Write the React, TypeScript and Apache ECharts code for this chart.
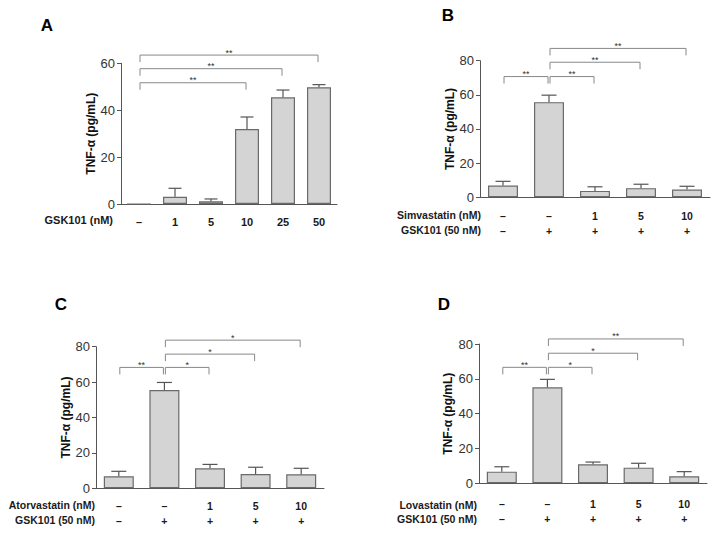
import React, { useEffect, useRef } from "react";
import * as echarts from "echarts";

// ---- Data ----
const catsA = ["–", "1", "5", "10", "25", "50"];
const meanA = [0, 3.1, 1.15, 32.0, 45.5, 49.8];
const errA = [0, 3.6, 1.0, 5.1, 3.1, 1.1];
const sigA: [number, number, number, string][] = [
  [0, 3, 51.7, "**"],
  [0, 4, 57.7, "**"],
  [0, 5, 63.5, "**"],
];

const statinDose = ["–", "–", "1", "5", "10"];
const gskRow = ["–", "+", "+", "+", "+"];

const meanB = [6.8, 55.7, 3.7, 5.3, 4.5];
const errB = [2.5, 4.1, 2.4, 2.3, 1.9];
const sigB: [number, number, number, string][] = [
  [0, 1, 70.7, "**"],
  [1, 2, 70.7, "**"],
  [1, 3, 79.1, "**"],
  [1, 4, 87.2, "**"],
];

const meanC = [6.8, 55.5, 11.3, 8.1, 7.9];
const errC = [2.8, 4.3, 2.2, 3.8, 3.4];
const sigC: [number, number, number, string][] = [
  [0, 1, 68.3, "**"],
  [1, 2, 68.3, "*"],
  [1, 3, 75.8, "*"],
  [1, 4, 83.7, "*"],
];

const meanD = [6.7, 55.1, 10.9, 9.0, 4.0];
const errD = [2.8, 4.6, 1.3, 2.5, 2.7];
const sigD: [number, number, number, string][] = [
  [0, 1, 66.6, "**"],
  [1, 2, 66.6, "*"],
  [1, 3, 74.7, "*"],
  [1, 4, 82.9, "**"],
];

const yTitle = "TNF-α (pg/mL)";
const FONT = '"Liberation Sans", Arial, sans-serif';

export default function App() {
  const ref = useRef<HTMLDivElement>(null);
  useEffect(() => {
    if (!ref.current) return;
    const chart = echarts.init(ref.current, null, { renderer: "svg" });

    const twoRow = statinDose.map((d, i) => d + "\n" + gskRow[i]);

    const panels = [
      { grid: { left: 121, top: 63.3, width: 216, height: 140.7 }, cats: catsA, mean: meanA, err: errA, sig: sigA, max: 60, barWidth: 24, cap: 13, labelMargin: 10, nameGap: 23, labelSize: 11 },
      { grid: { left: 480, top: 60.7, width: 230, height: 136.5 }, cats: twoRow, mean: meanB, err: errB, sig: sigB, max: 80, barWidth: 30, cap: 15, labelMargin: 11, nameGap: 23, labelSize: 10.5 },
      { grid: { left: 96, top: 346.7, width: 228, height: 141.6 }, cats: twoRow, mean: meanC, err: errC, sig: sigC, max: 80, barWidth: 30, cap: 15, labelMargin: 10, nameGap: 24, labelSize: 10.5 },
      { grid: { left: 479, top: 344, width: 228, height: 139.3 }, cats: twoRow, mean: meanD, err: errD, sig: sigD, max: 80, barWidth: 30, cap: 15, labelMargin: 13, nameGap: 25, labelSize: 10.5 },
    ];

    const grids: any[] = [];
    const xAxes: any[] = [];
    const yAxes: any[] = [];
    const series: any[] = [];

    panels.forEach((p, k) => {
      grids.push({ ...p.grid, containLabel: false });
      xAxes.push({
        type: "category",
        gridIndex: k,
        data: p.cats,
        boundaryGap: true,
        axisTick: { show: false },
        axisLine: { lineStyle: { color: "#555", width: 1 } },
        axisLabel: {
          color: "#1a1a1a",
          fontWeight: "bold",
          fontSize: p.labelSize,
          lineHeight: 15,
          margin: p.labelMargin,
          interval: 0,
          fontFamily: FONT,
        },
      });
      yAxes.push({
        type: "value",
        gridIndex: k,
        min: 0,
        max: p.max,
        interval: 20,
        splitLine: { show: false },
        axisLine: { show: true, lineStyle: { color: "#555", width: 1 } },
        axisTick: { show: true, length: 4, lineStyle: { color: "#555" } },
        axisLabel: { color: "#333", fontSize: 13, margin: 6, fontFamily: FONT },
        name: yTitle,
        nameLocation: "middle",
        nameGap: p.nameGap,
        nameTextStyle: { fontWeight: "bold", fontSize: 12, color: "#111", fontFamily: FONT },
      });
      series.push({
        type: "bar",
        xAxisIndex: k,
        yAxisIndex: k,
        data: p.mean,
        barWidth: p.barWidth,
        itemStyle: { color: "#d4d4d4", borderColor: "#6a6a6a", borderWidth: 1.2 },
        z: 2,
      });
      const errData = p.mean
        .map((m, i) => [i, m, m + p.err[i]])
        .filter((d, i) => p.err[i] > 0);
      const cap = p.cap;
      series.push({
        type: "custom",
        xAxisIndex: k,
        yAxisIndex: k,
        data: errData,
        encode: { x: 0, y: [1, 2] },
        z: 3,
        renderItem: (params: any, api: any) => {
          const x = api.value(0);
          const b = api.coord([x, api.value(1)]);
          const t = api.coord([x, api.value(2)]);
          return {
            type: "group",
            children: [
              { type: "line", shape: { x1: b[0], y1: b[1], x2: t[0], y2: t[1] }, style: { stroke: "#555", lineWidth: 1.2 } },
              { type: "line", shape: { x1: t[0] - cap / 2, y1: t[1], x2: t[0] + cap / 2, y2: t[1] }, style: { stroke: "#555", lineWidth: 1.2 } },
            ],
          };
        },
      });
      const sig = p.sig;
      series.push({
        type: "custom",
        xAxisIndex: k,
        yAxisIndex: k,
        data: sig.map((s) => [s[0], s[1], s[2]]),
        encode: { x: [0, 1], y: 2 },
        clip: false,
        z: 4,
        renderItem: (params: any, api: any) => {
          const y = api.value(2);
          const p0 = api.coord([api.value(0), y]);
          const p1 = api.coord([api.value(1), y]);
          const x0 = p0[0] + 1;
          const x1 = p1[0] - 1;
          const yy = p0[1];
          const drop = 7;
          return {
            type: "group",
            children: [
              {
                type: "polyline",
                shape: { points: [[x0, yy + drop], [x0, yy], [x1, yy], [x1, yy + drop]] },
                style: { stroke: "#888", lineWidth: 1, fill: "none" },
              },
              {
                type: "text",
                x: (x0 + x1) / 2,
                y: yy + 2,
                style: {
                  text: sig[params.dataIndex][3],
                  fill: "#333",
                  font: `9px ${FONT}`,
                  textAlign: "center",
                  textVerticalAlign: "bottom",
                  align: "center",
                  verticalAlign: "bottom",
                },
              },
            ],
          };
        },
      });
    });

    const rowText = (text: string, x: number, y: number, size: number) => ({
      type: "text",
      x,
      y,
      style: {
        text,
        fill: "#1a1a1a",
        font: `bold ${size}px ${FONT}`,
        textAlign: "right",
        textVerticalAlign: "middle",
        align: "right",
        verticalAlign: "middle",
      },
    });
    const letter = (text: string, x: number, y: number) => ({
      type: "text",
      x,
      y,
      style: {
        text,
        fill: "#000",
        font: `bold 17px ${FONT}`,
        textAlign: "center",
        textVerticalAlign: "middle",
        align: "center",
        verticalAlign: "middle",
      },
    });

    chart.setOption({
      animation: false,
      backgroundColor: "#fff",
      textStyle: { fontFamily: FONT },
      grid: grids,
      xAxis: xAxes,
      yAxis: yAxes,
      series,
      graphic: [
        letter("A", 47, 25),
        letter("B", 448, 15),
        letter("C", 61, 304),
        letter("D", 444, 304),
        rowText("GSK101 (nM)", 113, 220, 11),
        rowText("Simvastatin (nM)", 481, 215, 10.5),
        rowText("GSK101 (50 nM)", 481, 230, 10.5),
        rowText("Atorvastatin (nM)", 95, 505, 10.5),
        rowText("GSK101 (50 nM)", 95, 519.5, 10.5),
        rowText("Lovastatin (nM)", 477, 504.5, 10.5),
        rowText("GSK101 (50 nM)", 477, 518.5, 10.5),
      ],
    });
    return () => chart.dispose();
  }, []);
  return <div ref={ref} style={{ position: "fixed", left: 0, top: 0, width: 718, height: 535 }} />;
}
